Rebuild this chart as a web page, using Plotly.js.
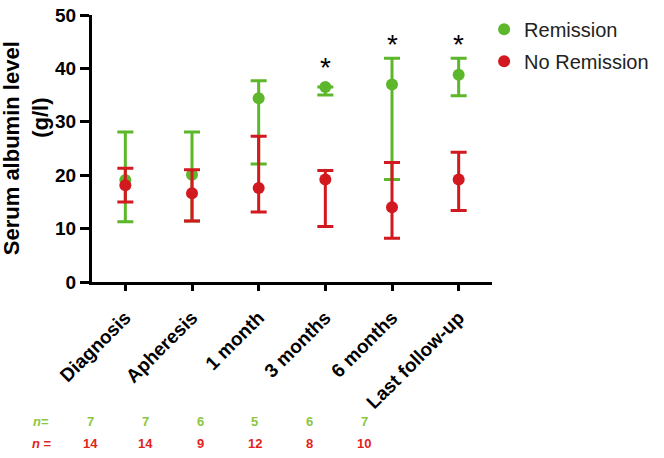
<!DOCTYPE html>
<html>
<head>
<meta charset="utf-8">
<script src="https://cdn.plot.ly/plotly-3.0.1.min.js"></script>
<style>html,body{margin:0;padding:0;background:#fff;}#chart{width:664px;height:458px;}</style>
</head>
<body>
<div id="chart"></div>
<script>
// ---- data ----
const categories = ['Diagnosis', 'Apheresis', '1 month', '3 months', '6 months', 'Last follow-up'];
const remissionMean  = [19.1, 20.1, 34.4, 36.5, 37.0, 38.8];
const remissionUpper = [28.1, 28.1, 37.7, 36.5, 41.9, 41.9];
const remissionLower = [11.3, 11.4, 22.1, 35.0, 19.2, 34.9];
const noRemissionMean  = [18.1, 16.6, 17.6, 19.2, 14.0, 19.2];
const noRemissionUpper = [21.3, 21.0, 27.3, 20.9, 22.4, 24.3];
const noRemissionLower = [15.0, 11.4, 13.1, 10.4, 8.2, 13.4];
const significance = ['', '', '', '*', '*', '*'];
const nRemission = [7, 7, 6, 5, 6, 7];
const nNoRemission = [14, 14, 9, 12, 8, 10];

// ---- styles ----
const GREEN = '#5CB72B';
const RED = '#D1191F';
const FONT = 'Liberation Sans, Arial, sans-serif';
const idx = categories.map((_, i) => i);

function diff(a, b) { return a.map((v, i) => +(v - b[i]).toFixed(3)); }

const traces = [
  {
    type: 'scatter', mode: 'markers', name: 'Remission', legendgroup: 'a',
    x: idx, y: remissionMean,
    marker: { color: GREEN, size: 12 },
    error_y: { type: 'data', symmetric: false,
      array: diff(remissionUpper, remissionMean),
      arrayminus: diff(remissionMean, remissionLower),
      color: GREEN, thickness: 3, width: 8 },
    hoverinfo: 'skip'
  },
  {
    type: 'scatter', mode: 'markers', name: 'No Remission', legendgroup: 'b',
    x: idx, y: noRemissionMean,
    marker: { color: RED, size: 12 },
    error_y: { type: 'data', symmetric: false,
      array: diff(noRemissionUpper, noRemissionMean),
      arrayminus: diff(noRemissionMean, noRemissionLower),
      color: RED, thickness: 3, width: 8 },
    hoverinfo: 'skip'
  }
];

// plot area in px: left 92, right 498, top 10, bottom 282
const L = 92, R = 498, T = 10, B = 282;
const px2paperX = p => (p - L) / (R - L);
const px2paperY = p => (B - p) / (B - T);

const annotations = [];
// significance asterisks above the highest drawn element
significance.forEach((s, i) => {
  if (!s) return;
  const top = Math.max(remissionUpper[i], remissionMean[i] + 1.1);
  annotations.push({
    x: i, y: top, xref: 'x', yref: 'y', text: s, showarrow: false,
    xanchor: 'center', yanchor: 'middle', yshift: 14,
    font: { family: FONT, size: 28, color: '#000' }
  });
});

// y-axis title (two lines, GraphPad style)
annotations.push({
  xref: 'paper', yref: 'paper', x: px2paperX(10.5), y: px2paperY(146),
  text: 'Serum albumin level', textangle: -90, showarrow: false,
  xanchor: 'center', yanchor: 'middle',
  font: { family: FONT, size: 22, weight: 'bold', color: '#000' }
});
annotations.push({
  xref: 'paper', yref: 'paper', x: px2paperX(39), y: px2paperY(115),
  text: '(g/l)', textangle: -90, showarrow: false,
  xanchor: 'center', yanchor: 'middle',
  font: { family: FONT, size: 22, weight: 'bold', color: '#000' }
});

// n rows
const nGreen = '#8CC63F', nRed = '#E2231A';
annotations.push({ xref: 'paper', yref: 'paper', x: px2paperX(30), y: px2paperY(424),
  text: '<i>n</i>=', showarrow: false, xanchor: 'left', yanchor: 'middle',
  font: { family: FONT, size: 13, weight: 'bold', color: nGreen } });
annotations.push({ xref: 'paper', yref: 'paper', x: px2paperX(29), y: px2paperY(447),
  text: '<i>n</i> =', showarrow: false, xanchor: 'left', yanchor: 'middle',
  font: { family: FONT, size: 13, weight: 'bold', color: nRed } });
nRemission.forEach((v, i) => {
  annotations.push({ xref: 'paper', yref: 'paper', x: px2paperX(90.7 + 55.5 * i), y: px2paperY(424),
    text: String(v), showarrow: false, xanchor: 'center', yanchor: 'middle',
    font: { family: FONT, size: 13, weight: 'bold', color: nGreen } });
});
nNoRemission.forEach((v, i) => {
  annotations.push({ xref: 'paper', yref: 'paper', x: px2paperX(90.7 + 55.5 * i), y: px2paperY(447),
    text: String(v), showarrow: false, xanchor: 'center', yanchor: 'middle',
    font: { family: FONT, size: 13, weight: 'bold', color: nRed } });
});

const layout = {
  width: 664, height: 458,
  margin: { l: L, r: 664 - R, t: T, b: 458 - B, pad: 0 },
  paper_bgcolor: '#fff', plot_bgcolor: '#fff',
  font: { family: FONT, color: '#000' },
  showlegend: true,
  legend: {
    x: px2paperX(490), y: 1.02, xanchor: 'left', yanchor: 'top',
    font: { family: FONT, size: 20, color: '#222' },
    tracegroupgap: 3, bgcolor: 'rgba(0,0,0,0)'
  },
  xaxis: {
    range: [-0.5, 5.5], tickmode: 'array', tickvals: idx, ticktext: categories,
    tickangle: -45, ticks: 'outside', ticklen: 6, tickwidth: 3, tickcolor: '#000',
    ticklabelstandoff: 8,
    showline: true, linewidth: 3, linecolor: '#000', showgrid: false, zeroline: false,
    tickfont: { family: FONT, size: 19, weight: 'bold', color: '#000' }, fixedrange: true
  },
  yaxis: {
    range: [0, 50], tickmode: 'array', tickvals: [0, 10, 20, 30, 40, 50],
    ticks: 'outside', ticklen: 9, tickwidth: 3, tickcolor: '#000',
    showline: true, linewidth: 3, linecolor: '#000', showgrid: false, zeroline: false,
    tickfont: { family: FONT, size: 19, weight: 'bold', color: '#000' }, fixedrange: true
  },
  annotations: annotations
};

Plotly.newPlot('chart', traces, layout, { displayModeBar: false, staticPlot: true });
</script>
</body>
</html>
